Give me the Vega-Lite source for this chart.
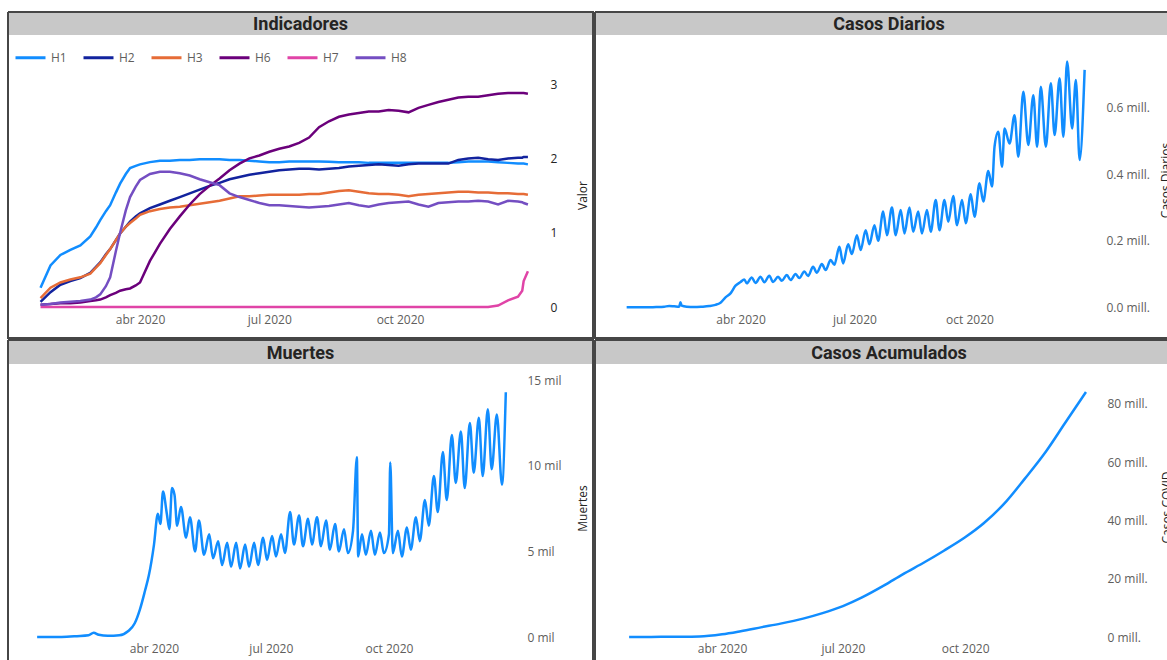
{
  "$schema": "https://vega.github.io/schema/vega-lite/v6.json",
  "padding": {"left": 7, "top": 11, "right": 0, "bottom": 0},
  "spacing": 0,
  "resolve": {"scale": {"color": "independent"}, "legend": {"color": "independent"}},
  "vconcat": [
    {
      "hconcat": [
        {
          "vconcat": [
            {
              "width": 585, "height": 23,
              "view": {"fill": "#c8c8c8", "stroke": "#464646", "strokeWidth": 2, "strokeDash": [608, 585, 23, 0]},
              "data": {"values": [{"t": "Indicadores"}]},
              "mark": {"type": "text", "font": "Roboto", "fontSize": 18, "fontWeight": "bold", "color": "#252423", "dy": 1.5},
              "encoding": {"text": {"field": "t"}}
            },
            {
              "width": 585, "height": 303,
              "view": {"fill": "white", "stroke": "#464646", "strokeWidth": 2, "strokeDash": [0, 585, 1191, 0]},
              "data": {"values": [
                {"fecha":"2020-01-22","H1":0.26,"H2":0.07,"H3":0.12,"H6":0.03,"H7":0,"H8":0.03},
                {"fecha":"2020-01-29","H1":0.56,"H2":0.20,"H3":0.26,"H6":0.04,"H7":0,"H8":0.04},
                {"fecha":"2020-02-05","H1":0.70,"H2":0.30,"H3":0.33,"H6":0.05,"H7":0,"H8":0.06},
                {"fecha":"2020-02-12","H1":0.77,"H2":0.35,"H3":0.37,"H6":0.05,"H7":0,"H8":0.07},
                {"fecha":"2020-02-19","H1":0.83,"H2":0.39,"H3":0.40,"H6":0.06,"H7":0,"H8":0.08},
                {"fecha":"2020-02-26","H1":0.95,"H2":0.46,"H3":0.45,"H6":0.08,"H7":0,"H8":0.10},
                {"fecha":"2020-03-01","H1":1.07,"H2":0.54,"H3":0.53,"H6":0.09,"H7":0,"H8":0.13},
                {"fecha":"2020-03-04","H1":1.17,"H2":0.60,"H3":0.59,"H6":0.10,"H7":0,"H8":0.17},
                {"fecha":"2020-03-08","H1":1.29,"H2":0.71,"H3":0.70,"H6":0.13,"H7":0,"H8":0.28},
                {"fecha":"2020-03-11","H1":1.37,"H2":0.78,"H3":0.78,"H6":0.16,"H7":0,"H8":0.40},
                {"fecha":"2020-03-15","H1":1.54,"H2":0.90,"H3":0.90,"H6":0.19,"H7":0,"H8":0.75},
                {"fecha":"2020-03-18","H1":1.66,"H2":0.99,"H3":0.99,"H6":0.22,"H7":0,"H8":1.00},
                {"fecha":"2020-03-22","H1":1.79,"H2":1.08,"H3":1.08,"H6":0.24,"H7":0,"H8":1.30},
                {"fecha":"2020-03-25","H1":1.87,"H2":1.15,"H3":1.13,"H6":0.25,"H7":0,"H8":1.48},
                {"fecha":"2020-03-29","H1":1.90,"H2":1.22,"H3":1.19,"H6":0.29,"H7":0,"H8":1.62},
                {"fecha":"2020-04-01","H1":1.92,"H2":1.26,"H3":1.24,"H6":0.33,"H7":0,"H8":1.71},
                {"fecha":"2020-04-08","H1":1.95,"H2":1.33,"H3":1.29,"H6":0.62,"H7":0,"H8":1.79},
                {"fecha":"2020-04-15","H1":1.97,"H2":1.38,"H3":1.32,"H6":0.85,"H7":0,"H8":1.82},
                {"fecha":"2020-04-22","H1":1.97,"H2":1.43,"H3":1.34,"H6":1.05,"H7":0,"H8":1.82},
                {"fecha":"2020-04-29","H1":1.98,"H2":1.48,"H3":1.35,"H6":1.22,"H7":0,"H8":1.80},
                {"fecha":"2020-05-06","H1":1.98,"H2":1.53,"H3":1.37,"H6":1.38,"H7":0,"H8":1.77},
                {"fecha":"2020-05-13","H1":1.99,"H2":1.58,"H3":1.39,"H6":1.52,"H7":0,"H8":1.72},
                {"fecha":"2020-05-20","H1":1.99,"H2":1.63,"H3":1.41,"H6":1.63,"H7":0,"H8":1.68},
                {"fecha":"2020-05-27","H1":1.99,"H2":1.67,"H3":1.43,"H6":1.73,"H7":0,"H8":1.64},
                {"fecha":"2020-06-03","H1":1.98,"H2":1.72,"H3":1.46,"H6":1.84,"H7":0,"H8":1.53},
                {"fecha":"2020-06-10","H1":1.98,"H2":1.75,"H3":1.49,"H6":1.93,"H7":0,"H8":1.48},
                {"fecha":"2020-06-17","H1":1.97,"H2":1.78,"H3":1.49,"H6":2.00,"H7":0,"H8":1.44},
                {"fecha":"2020-06-24","H1":1.96,"H2":1.80,"H3":1.50,"H6":2.04,"H7":0,"H8":1.40},
                {"fecha":"2020-07-01","H1":1.95,"H2":1.82,"H3":1.51,"H6":2.09,"H7":0,"H8":1.37},
                {"fecha":"2020-07-08","H1":1.95,"H2":1.84,"H3":1.51,"H6":2.13,"H7":0,"H8":1.37},
                {"fecha":"2020-07-15","H1":1.96,"H2":1.85,"H3":1.51,"H6":2.16,"H7":0,"H8":1.36},
                {"fecha":"2020-07-22","H1":1.96,"H2":1.86,"H3":1.51,"H6":2.21,"H7":0,"H8":1.35},
                {"fecha":"2020-07-29","H1":1.96,"H2":1.86,"H3":1.52,"H6":2.28,"H7":0,"H8":1.34},
                {"fecha":"2020-08-05","H1":1.96,"H2":1.85,"H3":1.52,"H6":2.42,"H7":0,"H8":1.35},
                {"fecha":"2020-08-12","H1":1.955,"H2":1.86,"H3":1.54,"H6":2.50,"H7":0,"H8":1.36},
                {"fecha":"2020-08-19","H1":1.95,"H2":1.87,"H3":1.56,"H6":2.56,"H7":0,"H8":1.38},
                {"fecha":"2020-08-26","H1":1.95,"H2":1.89,"H3":1.57,"H6":2.59,"H7":0,"H8":1.40},
                {"fecha":"2020-09-02","H1":1.95,"H2":1.90,"H3":1.55,"H6":2.61,"H7":0,"H8":1.37},
                {"fecha":"2020-09-09","H1":1.94,"H2":1.91,"H3":1.53,"H6":2.63,"H7":0,"H8":1.35},
                {"fecha":"2020-09-16","H1":1.94,"H2":1.92,"H3":1.52,"H6":2.63,"H7":0,"H8":1.38},
                {"fecha":"2020-09-23","H1":1.94,"H2":1.91,"H3":1.52,"H6":2.65,"H7":0,"H8":1.40},
                {"fecha":"2020-09-30","H1":1.94,"H2":1.90,"H3":1.51,"H6":2.64,"H7":0,"H8":1.41},
                {"fecha":"2020-10-07","H1":1.94,"H2":1.92,"H3":1.49,"H6":2.62,"H7":0,"H8":1.42},
                {"fecha":"2020-10-14","H1":1.94,"H2":1.93,"H3":1.51,"H6":2.68,"H7":0,"H8":1.38},
                {"fecha":"2020-10-21","H1":1.94,"H2":1.93,"H3":1.52,"H6":2.72,"H7":0,"H8":1.35},
                {"fecha":"2020-10-28","H1":1.94,"H2":1.93,"H3":1.53,"H6":2.76,"H7":0,"H8":1.40},
                {"fecha":"2020-11-04","H1":1.94,"H2":1.93,"H3":1.54,"H6":2.79,"H7":0,"H8":1.41},
                {"fecha":"2020-11-11","H1":1.95,"H2":1.98,"H3":1.55,"H6":2.82,"H7":0,"H8":1.42},
                {"fecha":"2020-11-18","H1":1.96,"H2":2.00,"H3":1.55,"H6":2.83,"H7":0,"H8":1.42},
                {"fecha":"2020-11-25","H1":1.96,"H2":2.01,"H3":1.54,"H6":2.83,"H7":0,"H8":1.43},
                {"fecha":"2020-12-02","H1":1.96,"H2":1.99,"H3":1.54,"H6":2.85,"H7":0,"H8":1.42},
                {"fecha":"2020-12-09","H1":1.95,"H2":1.98,"H3":1.53,"H6":2.87,"H7":0.02,"H8":1.38},
                {"fecha":"2020-12-16","H1":1.94,"H2":2.00,"H3":1.53,"H6":2.88,"H7":0.09,"H8":1.43},
                {"fecha":"2020-12-23","H1":1.93,"H2":2.01,"H3":1.52,"H6":2.88,"H7":0.14,"H8":1.42},
                {"fecha":"2020-12-26","H1":1.93,"H2":2.01,"H3":1.52,"H6":2.88,"H7":0.22,"H8":1.41},
                {"fecha":"2020-12-27","H1":1.93,"H2":2.02,"H3":1.52,"H6":2.88,"H7":0.35,"H8":1.40},
                {"fecha":"2020-12-30","H1":1.92,"H2":2.02,"H3":1.51,"H6":2.87,"H7":0.48,"H8":1.38}
              ]},
              "transform": [{"fold": ["H1", "H2", "H3", "H6", "H7", "H8"], "as": ["serie", "valor"]}],
              "mark": {"type": "line", "strokeWidth": 2.5},
              "encoding": {
                "x": {"field": "fecha", "type": "temporal",
                  "scale": {"type": "utc", "domain": [1577672640000, 1613243520000]},
                  "axis": {"orient": "bottom", "offset": -24, "title": null, "values": [1585699200000, 1593561600000, 1601510400000],
                    "labelExpr": "['ene','feb','mar','abr','may','jun','jul','ago','sep','oct','nov','dic'][utcmonth(datum.value)] + ' ' + utcyear(datum.value)"}},
                "y": {"field": "valor", "type": "quantitative",
                  "scale": {"domain": [-0.417, 3.661], "nice": false, "zero": false},
                  "axis": {"orient": "right", "offset": -43, "values": [0, 1, 2, 3], "format": "d", "title": "Valor",
                    "labelColor": "#252423", "titleX": 32, "titleY": 160}},
                "color": {"field": "serie", "type": "nominal",
                  "scale": {"domain": ["H1", "H2", "H3", "H6", "H7", "H8"], "range": ["#118DFF", "#12239E", "#E66C37", "#6B007B", "#E044A7", "#744EC2"]},
                  "legend": {"orient": "top-left", "direction": "horizontal", "title": null, "offset": 6,
                    "symbolType": "stroke", "symbolSize": 900, "symbolStrokeWidth": 3,
                    "labelFont": "Open Sans", "labelFontSize": 12, "labelColor": "#605e5c", "labelOffset": 4, "columnPadding": 10}}
              }
            }
          ],
          "spacing": 0, "bounds": "flush",
          "resolve": {"scale": {"color": "independent"}, "legend": {"color": "independent"}}
        },
        {
          "vconcat": [
            {
              "width": 600, "height": 23,
              "view": {"fill": "#c8c8c8", "stroke": "#464646", "strokeWidth": 2, "strokeDash": [623, 600, 23, 0]},
              "data": {"values": [{"t": "Casos Diarios"}]},
              "mark": {"type": "text", "font": "Roboto", "fontSize": 18, "fontWeight": "bold", "color": "#252423", "dx": -6, "dy": 1.5},
              "encoding": {"text": {"field": "t"}}
            },
            {
              "width": 600, "height": 303,
              "view": {"fill": "white", "stroke": "#464646", "strokeWidth": 2, "strokeDash": [0, 600, 1206, 0]},
              "data": {"values": [
                {"fecha":"2020-01-01","casos":0},{"fecha":"2020-01-10","casos":0},{"fecha":"2020-01-20","casos":100},
                {"fecha":"2020-01-25","casos":700},{"fecha":"2020-01-31","casos":2000},{"fecha":"2020-02-04","casos":3900},
                {"fecha":"2020-02-08","casos":3000},{"fecha":"2020-02-12","casos":2000},{"fecha":"2020-02-13","casos":15000},
                {"fecha":"2020-02-14","casos":5000},{"fecha":"2020-02-18","casos":1800},{"fecha":"2020-02-24","casos":700},
                {"fecha":"2020-03-01","casos":1800},{"fecha":"2020-03-07","casos":3800},{"fecha":"2020-03-12","casos":7500},
                {"fecha":"2020-03-16","casos":14000},{"fecha":"2020-03-20","casos":30000},{"fecha":"2020-03-24","casos":42000},
                {"fecha":"2020-03-28","casos":65000},{"fecha":"2020-04-01","casos":76000},{"fecha":"2020-04-04","casos":84000},
                {"fecha":"2020-04-06","casos":72000},{"fecha":"2020-04-10","casos":90000},{"fecha":"2020-04-13","casos":73000},
                {"fecha":"2020-04-17","casos":92000},{"fecha":"2020-04-20","casos":75000},{"fecha":"2020-04-24","casos":95000},
                {"fecha":"2020-04-27","casos":76000},{"fecha":"2020-05-01","casos":92000},{"fecha":"2020-05-04","casos":80000},
                {"fecha":"2020-05-08","casos":97000},{"fecha":"2020-05-11","casos":82000},{"fecha":"2020-05-15","casos":100000},
                {"fecha":"2020-05-18","casos":88000},{"fecha":"2020-05-22","casos":108000},{"fecha":"2020-05-25","casos":94000},
                {"fecha":"2020-05-29","casos":122000},{"fecha":"2020-06-01","casos":104000},{"fecha":"2020-06-05","casos":130000},
                {"fecha":"2020-06-08","casos":112000},{"fecha":"2020-06-12","casos":142000},{"fecha":"2020-06-15","casos":128000},
                {"fecha":"2020-06-19","casos":182000},{"fecha":"2020-06-22","casos":132000},{"fecha":"2020-06-26","casos":190000},
                {"fecha":"2020-06-29","casos":160000},{"fecha":"2020-07-03","casos":217000},{"fecha":"2020-07-06","casos":172000},
                {"fecha":"2020-07-10","casos":232000},{"fecha":"2020-07-13","casos":190000},{"fecha":"2020-07-17","casos":247000},
                {"fecha":"2020-07-20","casos":200000},{"fecha":"2020-07-24","casos":288000},{"fecha":"2020-07-27","casos":217000},
                {"fecha":"2020-07-31","casos":300000},{"fecha":"2020-08-03","casos":217000},{"fecha":"2020-08-07","casos":293000},
                {"fecha":"2020-08-10","casos":222000},{"fecha":"2020-08-14","casos":300000},{"fecha":"2020-08-17","casos":227000},
                {"fecha":"2020-08-21","casos":288000},{"fecha":"2020-08-24","casos":222000},{"fecha":"2020-08-28","casos":293000},
                {"fecha":"2020-08-31","casos":227000},{"fecha":"2020-09-04","casos":323000},{"fecha":"2020-09-07","casos":232000},
                {"fecha":"2020-09-11","casos":323000},{"fecha":"2020-09-14","casos":257000},{"fecha":"2020-09-18","casos":335000},
                {"fecha":"2020-09-21","casos":247000},{"fecha":"2020-09-25","casos":323000},{"fecha":"2020-09-28","casos":253000},
                {"fecha":"2020-10-02","casos":340000},{"fecha":"2020-10-05","casos":272000},{"fecha":"2020-10-09","casos":373000},
                {"fecha":"2020-10-12","casos":318000},{"fecha":"2020-10-16","casos":410000},{"fecha":"2020-10-19","casos":363000},
                {"fecha":"2020-10-21","casos":483000},{"fecha":"2020-10-24","casos":528000},{"fecha":"2020-10-27","casos":423000},
                {"fecha":"2020-10-29","casos":538000},{"fecha":"2020-11-02","casos":493000},{"fecha":"2020-11-06","casos":578000},
                {"fecha":"2020-11-09","casos":453000},{"fecha":"2020-11-13","casos":648000},{"fecha":"2020-11-17","casos":488000},
                {"fecha":"2020-11-21","casos":638000},{"fecha":"2020-11-24","casos":483000},{"fecha":"2020-11-27","casos":663000},
                {"fecha":"2020-12-01","casos":483000},{"fecha":"2020-12-05","casos":674000},{"fecha":"2020-12-08","casos":518000},
                {"fecha":"2020-12-12","casos":689000},{"fecha":"2020-12-15","casos":513000},{"fecha":"2020-12-18","casos":739000},
                {"fecha":"2020-12-22","casos":538000},{"fecha":"2020-12-25","casos":684000},{"fecha":"2020-12-28","casos":443000},
                {"fecha":"2021-01-01","casos":714000}
              ]},
              "mark": {"type": "line", "strokeWidth": 2.5, "color": "#118DFF", "interpolate": "monotone"},
              "encoding": {
                "x": {"field": "fecha", "type": "temporal",
                  "scale": {"type": "utc", "domain": [1575650880000, 1617079680000]},
                  "axis": {"orient": "bottom", "offset": -24, "title": null, "values": [1585699200000, 1593561600000, 1601510400000],
                    "labelExpr": "['ene','feb','mar','abr','may','jun','jul','ago','sep','oct','nov','dic'][utcmonth(datum.value)] + ' ' + utcyear(datum.value)"}},
                "y": {"field": "casos", "type": "quantitative",
                  "scale": {"domain": [-92300, 819000], "nice": false, "zero": false},
                  "axis": {"orient": "right", "offset": -89, "values": [0, 200000, 400000, 600000], "title": "Casos Diarios",
                    "labelExpr": "format(datum.value / 1000000, '.1f') + ' mill.'", "titleX": 59, "titleY": 145}}
              }
            }
          ],
          "spacing": 0, "bounds": "flush",
          "resolve": {"scale": {"color": "independent"}, "legend": {"color": "independent"}}
        }
      ],
      "spacing": 0,
      "resolve": {"scale": {"color": "independent"}, "legend": {"color": "independent"}}
    },
    {
      "hconcat": [
        {
          "vconcat": [
            {
              "width": 585, "height": 24,
              "view": {"fill": "#c8c8c8", "stroke": "#464646", "strokeWidth": 2, "strokeDash": [609, 585, 24, 0]},
              "data": {"values": [{"t": "Muertes"}]},
              "mark": {"type": "text", "font": "Roboto", "fontSize": 18, "fontWeight": "bold", "color": "#252423", "dy": 1.5},
              "encoding": {"text": {"field": "t"}}
            },
            {
              "width": 585, "height": 320,
              "view": {"fill": "white", "stroke": "#464646", "strokeWidth": 2, "strokeDash": [0, 585, 1225, 0]},
              "data": {"values": [
                {"fecha":"2020-01-01","muertes":0},{"fecha":"2020-01-20","muertes":5},{"fecha":"2020-02-01","muertes":50},
                {"fecha":"2020-02-10","muertes":100},{"fecha":"2020-02-14","muertes":250},{"fecha":"2020-02-18","muertes":130},
                {"fecha":"2020-02-25","muertes":70},{"fecha":"2020-03-05","muertes":100},{"fecha":"2020-03-12","muertes":350},
                {"fecha":"2020-03-17","muertes":800},{"fecha":"2020-03-21","muertes":1600},{"fecha":"2020-03-25","muertes":2700},
                {"fecha":"2020-03-28","muertes":3600},{"fecha":"2020-04-01","muertes":5400},{"fecha":"2020-04-04","muertes":7200},
                {"fecha":"2020-04-06","muertes":6600},{"fecha":"2020-04-08","muertes":8500},{"fecha":"2020-04-11","muertes":7200},
                {"fecha":"2020-04-13","muertes":6300},{"fecha":"2020-04-15","muertes":8700},{"fecha":"2020-04-17","muertes":8300},
                {"fecha":"2020-04-19","muertes":6500},{"fecha":"2020-04-22","muertes":7600},{"fecha":"2020-04-26","muertes":5800},
                {"fecha":"2020-04-29","muertes":7000},{"fecha":"2020-05-03","muertes":5000},{"fecha":"2020-05-06","muertes":6800},
                {"fecha":"2020-05-10","muertes":4800},{"fecha":"2020-05-14","muertes":6000},{"fecha":"2020-05-17","muertes":4600},
                {"fecha":"2020-05-21","muertes":5600},{"fecha":"2020-05-24","muertes":4200},{"fecha":"2020-05-28","muertes":5500},
                {"fecha":"2020-05-31","muertes":4100},{"fecha":"2020-06-04","muertes":5500},{"fecha":"2020-06-07","muertes":4000},
                {"fecha":"2020-06-11","muertes":5400},{"fecha":"2020-06-14","muertes":4100},{"fecha":"2020-06-18","muertes":5500},
                {"fecha":"2020-06-21","muertes":4200},{"fecha":"2020-06-25","muertes":5800},{"fecha":"2020-06-28","muertes":4500},
                {"fecha":"2020-07-02","muertes":5900},{"fecha":"2020-07-05","muertes":4700},{"fecha":"2020-07-09","muertes":6000},
                {"fecha":"2020-07-12","muertes":4900},{"fecha":"2020-07-16","muertes":7300},{"fecha":"2020-07-19","muertes":5400},
                {"fecha":"2020-07-23","muertes":7100},{"fecha":"2020-07-26","muertes":5300},{"fecha":"2020-07-30","muertes":6900},
                {"fecha":"2020-08-02","muertes":5400},{"fecha":"2020-08-06","muertes":7000},{"fecha":"2020-08-09","muertes":5300},
                {"fecha":"2020-08-13","muertes":6800},{"fecha":"2020-08-16","muertes":5100},{"fecha":"2020-08-20","muertes":6600},
                {"fecha":"2020-08-23","muertes":5000},{"fecha":"2020-08-27","muertes":6300},{"fecha":"2020-08-30","muertes":4900},
                {"fecha":"2020-09-03","muertes":6200},{"fecha":"2020-09-06","muertes":10500},{"fecha":"2020-09-07","muertes":4700},
                {"fecha":"2020-09-10","muertes":6000},{"fecha":"2020-09-13","muertes":4800},{"fecha":"2020-09-17","muertes":6200},
                {"fecha":"2020-09-20","muertes":4800},{"fecha":"2020-09-24","muertes":6100},{"fecha":"2020-09-27","muertes":4900},
                {"fecha":"2020-10-01","muertes":6000},{"fecha":"2020-10-02","muertes":10200},{"fecha":"2020-10-04","muertes":4900},
                {"fecha":"2020-10-08","muertes":6200},{"fecha":"2020-10-11","muertes":4700},{"fecha":"2020-10-15","muertes":6400},
                {"fecha":"2020-10-18","muertes":5100},{"fecha":"2020-10-22","muertes":7000},{"fecha":"2020-10-25","muertes":5600},
                {"fecha":"2020-10-29","muertes":8000},{"fecha":"2020-11-01","muertes":6500},{"fecha":"2020-11-05","muertes":9400},
                {"fecha":"2020-11-08","muertes":7300},{"fecha":"2020-11-12","muertes":10800},{"fecha":"2020-11-15","muertes":8000},
                {"fecha":"2020-11-19","muertes":11800},{"fecha":"2020-11-22","muertes":9000},{"fecha":"2020-11-26","muertes":12000},
                {"fecha":"2020-11-29","muertes":8700},{"fecha":"2020-12-03","muertes":12500},{"fecha":"2020-12-06","muertes":9600},
                {"fecha":"2020-12-10","muertes":12800},{"fecha":"2020-12-13","muertes":9400},{"fecha":"2020-12-17","muertes":13300},
                {"fecha":"2020-12-20","muertes":9800},{"fecha":"2020-12-24","muertes":13000},{"fecha":"2020-12-28","muertes":8900},
                {"fecha":"2020-12-31","muertes":14300}
              ]},
              "mark": {"type": "line", "strokeWidth": 2.5, "color": "#118DFF", "interpolate": "monotone"},
              "encoding": {
                "x": {"field": "fecha", "type": "temporal",
                  "scale": {"type": "utc", "domain": [1575875520000, 1615239360000]},
                  "axis": {"orient": "bottom", "offset": -41, "title": null, "values": [1585699200000, 1593561600000, 1601510400000],
                    "labelExpr": "['ene','feb','mar','abr','may','jun','jul','ago','sep','oct','nov','dic'][utcmonth(datum.value)] + ' ' + utcyear(datum.value)"}},
                "y": {"field": "muertes", "type": "quantitative",
                  "scale": {"domain": [-2745, 15946], "nice": false, "zero": false},
                  "axis": {"orient": "right", "offset": -66, "values": [0, 5000, 10000, 15000], "title": "Muertes",
                    "labelExpr": "format(datum.value / 1000, 'd') + ' mil'", "titleX": 55, "titleY": 144}}
              }
            }
          ],
          "spacing": 0, "bounds": "flush",
          "resolve": {"scale": {"color": "independent"}, "legend": {"color": "independent"}}
        },
        {
          "vconcat": [
            {
              "width": 600, "height": 24,
              "view": {"fill": "#c8c8c8", "stroke": "#464646", "strokeWidth": 2, "strokeDash": [624, 600, 24, 0]},
              "data": {"values": [{"t": "Casos Acumulados"}]},
              "mark": {"type": "text", "font": "Roboto", "fontSize": 18, "fontWeight": "bold", "color": "#252423", "dx": -6, "dy": 1.5},
              "encoding": {"text": {"field": "t"}}
            },
            {
              "width": 600, "height": 320,
              "view": {"fill": "white", "stroke": "#464646", "strokeWidth": 2, "strokeDash": [0, 600, 1240, 0]},
              "data": {"values": [
                {"fecha":"2020-01-22","acumulados":600},{"fecha":"2020-02-01","acumulados":12000},{"fecha":"2020-02-15","acumulados":69000},
                {"fecha":"2020-03-01","acumulados":88000},{"fecha":"2020-03-15","acumulados":170000},{"fecha":"2020-04-01","acumulados":930000},
                {"fecha":"2020-04-15","acumulados":2000000},{"fecha":"2020-05-01","acumulados":3400000},{"fecha":"2020-05-15","acumulados":4600000},
                {"fecha":"2020-06-01","acumulados":6300000},{"fecha":"2020-06-15","acumulados":8100000},{"fecha":"2020-07-01","acumulados":10600000},
                {"fecha":"2020-07-15","acumulados":13500000},{"fecha":"2020-08-01","acumulados":17700000},{"fecha":"2020-08-15","acumulados":21500000},
                {"fecha":"2020-09-01","acumulados":25800000},{"fecha":"2020-09-15","acumulados":29600000},{"fecha":"2020-10-01","acumulados":34200000},
                {"fecha":"2020-10-15","acumulados":39000000},{"fecha":"2020-11-01","acumulados":46500000},{"fecha":"2020-11-15","acumulados":54300000},
                {"fecha":"2020-12-01","acumulados":63700000},{"fecha":"2020-12-15","acumulados":73200000},{"fecha":"2020-12-31","acumulados":84000000}
              ]},
              "mark": {"type": "line", "strokeWidth": 2.5, "color": "#118DFF", "interpolate": "monotone"},
              "encoding": {
                "x": {"field": "fecha", "type": "temporal",
                  "scale": {"type": "utc", "domain": [1577430720000, 1616466240000]},
                  "axis": {"orient": "bottom", "offset": -41, "title": null, "values": [1585699200000, 1593561600000, 1601510400000],
                    "labelExpr": "['ene','feb','mar','abr','may','jun','jul','ago','sep','oct','nov','dic'][utcmonth(datum.value)] + ' ' + utcyear(datum.value)"}},
                "y": {"field": "acumulados", "type": "quantitative",
                  "scale": {"domain": [-16100000, 93600000], "nice": false, "zero": false},
                  "axis": {"orient": "right", "offset": -88, "values": [0, 20000000, 40000000, 60000000, 80000000], "title": "Casos COVID",
                    "labelExpr": "format(datum.value / 1000000, 'd') + ' mill.'", "titleX": 59, "titleY": 143}}
              }
            }
          ],
          "spacing": 0, "bounds": "flush",
          "resolve": {"scale": {"color": "independent"}, "legend": {"color": "independent"}}
        }
      ],
      "spacing": 0,
      "resolve": {"scale": {"color": "independent"}, "legend": {"color": "independent"}}
    }
  ],
  "config": {
    "view": {"stroke": "#464646", "strokeWidth": 2, "fill": "white"},
    "axis": {"grid": false, "ticks": false, "tickSize": 0, "domain": false, "labelPadding": 0,
      "labelFont": "Open Sans", "labelFontSize": 12, "labelColor": "#605e5c", "labelOverlap": false, "labelFlush": false,
      "titleFont": "Open Sans", "titleFontSize": 12, "titleFontWeight": "normal", "titleColor": "#252423",
      "titleAngle": 270, "titleAlign": "center", "titleBaseline": "middle"},
    "axisX": {"titleAngle": 0},
    "concat": {"spacing": 0}
  }
}
